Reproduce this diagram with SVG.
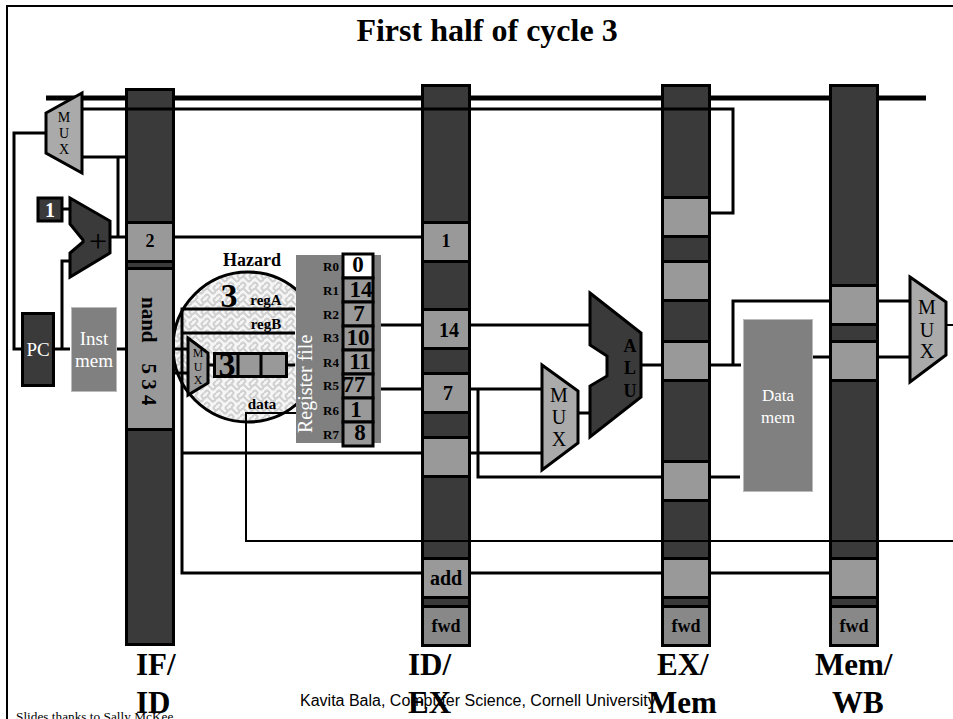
<svg xmlns="http://www.w3.org/2000/svg" width="953" height="719" viewBox="0 0 953 719">
<style>
text{font-family:"Liberation Serif","Times New Roman",serif;fill:#000}
.b{font-weight:bold}
.m{text-anchor:middle}
.w{fill:#fff}
.bar{fill:#3a3a3a;stroke:#000;stroke-width:3}
.cell{fill:#999;stroke:#000;stroke-width:3}
.fwd{fill:#888;stroke:#000;stroke-width:3}
.dark{fill:#3a3a3a;stroke:#000;stroke-width:3}
.mux{fill:#aaa;stroke:#000;stroke-width:3}
.mem{fill:#808080;stroke:#bbb;stroke-width:1}
.wire{fill:none;stroke:#000;stroke-width:3}
.thin{fill:none;stroke:#000;stroke-width:2}
.thick{fill:none;stroke:#000;stroke-width:5}
</style>
<defs>
<pattern id="weave" width="12" height="12" patternUnits="userSpaceOnUse">
<rect width="12" height="12" fill="#f6f6f6"/>
<path d="M0 3L3 0M3 0L9 6M9 6L12 3M0 9L3 6M3 6L6 9M6 9L3 12M9 12L12 9M9 0L12 3" fill="none" stroke="#d0d0d0" stroke-width="2"/>
</pattern>
</defs>
<rect width="953" height="719" fill="#fff"/>
<g id="frame"><path class="thin" d="M953 6H7V719"/></g>
<text id="title" class="b m" x="487" y="41" font-size="32">First half of cycle 3</text>

<g id="pipeline-bars">
<rect class="bar" x="126.500" y="89.500" width="47" height="555"/>
<rect class="bar" x="422.500" y="85.500" width="47" height="560"/>
<rect class="bar" x="662.500" y="85.500" width="47" height="560"/>
<rect class="bar" x="830.500" y="85.500" width="47" height="560"/>
</g>

<g id="hazard-unit">
<circle cx="248" cy="347" r="75" fill="url(#weave)" stroke="#000" stroke-width="3"/>
<text class="b m" x="252" y="266" font-size="18">Hazard</text>
<text class="b m" x="229" y="307" font-size="34">3</text>
<text class="b m" x="266" y="305" font-size="15">regA</text>
<text class="b m" x="266" y="329" font-size="15">regB</text>
<text class="b m" x="262" y="409" font-size="15">data</text>
</g>

<g id="connectors">
<path class="thick" d="M46 98H126M174 98H422M470 98H661M710 98H830M878 98H926"/>
<path class="wire" d="M82 109H733V213H710"/>
<path class="wire" d="M46 133H14V349H22"/>
<path class="wire" d="M82 157H126M118 157V237"/>
<path class="wire" d="M63 209H70M111 237H126M174 237H422"/>
<path class="wire" d="M54 349H70M62 349V261H70M117 349H126"/>
<path class="wire" d="M295 309H182V573H422M182 333H295M175 349H187M175 373H187M182 453H422"/>
<path class="wire" d="M209 365H214M287 365H295"/>
<path class="thin" d="M296 413H246V541H953"/>
<path class="wire" d="M381 325H422M470 325H590M381 389H422M470 389H542M470 453H542M478 389V477H662"/>
<path class="wire" d="M578 413H590M641 365H662"/>
<path class="wire" d="M710 365H741M733 365V301H830M813 357H830M878 301H909M878 357H909M710 477H740"/>
<path class="thin" d="M946 325H953"/>
<path class="wire" d="M470 573H662M710 573H830"/>
</g>

<g id="if-id-cells">
<rect class="cell" x="126.500" y="222.500" width="47" height="39"/><text class="b m" x="150" y="247" font-size="18">2</text>
<rect class="cell" x="126.500" y="268.500" width="47" height="161"/>
<text class="b" transform="translate(142 297) rotate(90)" font-size="21" xml:space="preserve">nand    5 3 4</text>
</g>
<g id="id-ex-cells">
<rect class="cell" x="422.500" y="222.500" width="47" height="39"/><text class="b m" x="446" y="247" font-size="18">1</text>
<rect class="cell" x="422.500" y="309.500" width="47" height="39"/><text class="b m" x="449" y="337" font-size="20">14</text>
<rect class="cell" x="422.500" y="373.500" width="47" height="39"/><text class="b m" x="448" y="400" font-size="20">7</text>
<rect class="cell" x="422.500" y="437.500" width="47" height="39"/>
<rect class="cell" x="422.500" y="558.500" width="47" height="39"/><text class="b m" x="446" y="585" font-size="20">add</text>
<rect class="fwd" x="422.500" y="606.500" width="47" height="39"/><text class="b m" x="446" y="632" font-size="18">fwd</text>
</g>
<g id="ex-mem-cells">
<rect class="cell" x="662.500" y="197.500" width="47" height="39"/>
<rect class="cell" x="662.500" y="261.500" width="47" height="39"/>
<rect class="cell" x="662.500" y="341.500" width="47" height="39"/>
<rect class="cell" x="662.500" y="461.500" width="47" height="39"/>
<rect class="cell" x="662.500" y="558.500" width="47" height="39"/>
<rect class="fwd" x="662.500" y="606.500" width="47" height="39"/><text class="b m" x="686" y="632" font-size="18">fwd</text>
</g>
<g id="mem-wb-cells">
<rect class="cell" x="830.500" y="285.500" width="47" height="39"/>
<rect class="cell" x="830.500" y="341.500" width="47" height="39"/>
<rect class="cell" x="830.500" y="558.500" width="47" height="39"/>
<rect class="fwd" x="830.500" y="606.500" width="47" height="39"/><text class="b m" x="854" y="632" font-size="18">fwd</text>
</g>

<g id="pc-mux">
<polygon class="mux" points="46,113 82,93 82,173 46,153"/>
<text class="m" x="64" y="122" font-size="14">M</text><text class="m" x="64" y="138" font-size="14">U</text><text class="m" x="64" y="154" font-size="14">X</text>
</g>
<g id="const-1"><rect class="dark" x="38" y="198" width="24" height="23"/><text class="b m w" x="50" y="217" font-size="20">1</text></g>
<g id="adder">
<polygon class="dark" points="70,198 110,221 110,253 70,277 70,253 83,242 83,240 70,224"/>
<text class="m" x="98" y="252" font-size="32">+</text>
</g>
<g id="pc"><rect class="dark" x="22.500" y="313.500" width="31" height="72"/><text class="m w" x="38" y="356" font-size="19">PC</text></g>
<g id="inst-mem">
<rect class="mem" x="71.500" y="307.500" width="45" height="84"/>
<text class="m w" x="94" y="345" font-size="19">Inst</text><text class="m w" x="94" y="367" font-size="19">mem</text>
</g>

<g id="hazard-mux">
<polygon class="cell" points="188,338 208,353 208,383 188,395"/>
<text class="m" x="198" y="357" font-size="12">M</text><text class="m" x="198" y="371" font-size="12">U</text><text class="m" x="198" y="384" font-size="12">X</text>
</g>
<g id="hazard-shift">
<rect class="cell" x="214.500" y="353.500" width="72" height="23"/>
<path class="wire" d="M238 353V377M261 353V377"/>
<text class="b m" x="227" y="376" font-size="34">3</text>
</g>

<g id="register-file">
<rect fill="#808080" x="296" y="255" width="85" height="188"/>
<text class="w" transform="translate(312 433) rotate(-90)" font-size="20">Register file</text>
<rect x="343" y="254" width="30" height="24" fill="#fff" stroke="#000" stroke-width="3"/>
<rect class="cell" x="343" y="278" width="30" height="24"/>
<rect class="cell" x="343" y="302" width="30" height="24"/>
<rect class="cell" x="343" y="326" width="30" height="24"/>
<rect class="cell" x="343" y="350" width="30" height="24"/>
<rect class="cell" x="343" y="374" width="30" height="24"/>
<rect class="cell" x="343" y="398" width="30" height="24"/>
<rect class="cell" x="343" y="422" width="30" height="24"/>
<g class="b m" font-size="13">
<text x="331" y="271">R0</text><text x="331" y="295">R1</text><text x="331" y="319">R2</text><text x="331" y="342">R3</text><text x="331" y="367">R4</text><text x="331" y="390">R5</text><text x="331" y="415">R6</text><text x="331" y="439">R7</text>
</g>
<g class="b m" font-size="23">
<text x="358" y="272">0</text><text x="361" y="297">14</text><text x="359" y="321">7</text><text x="358" y="345">10</text><text x="360" y="369">11</text><text x="354" y="392">77</text><text x="356" y="417">1</text><text x="360" y="440">8</text>
</g>
</g>

<g id="ex-mux">
<polygon class="mux" points="542,365 578,391 578,443 542,470"/>
<text class="m" x="559" y="402" font-size="20">M</text><text class="m" x="559" y="424" font-size="20">U</text><text class="m" x="559" y="446" font-size="20">X</text>
</g>
<g id="alu">
<polygon class="dark" points="590,293 641,333 641,397 590,437 590,386 607,376 607,356 590,345"/>
<text class="b m" x="630" y="352" font-size="18">A</text><text class="b m" x="630" y="374" font-size="18">L</text><text class="b m" x="630" y="397" font-size="18">U</text>
</g>
<g id="data-mem">
<rect class="mem" x="743.500" y="319.500" width="69" height="172"/>
<text class="m w" x="778" y="401" font-size="17">Data</text><text class="m w" x="778" y="423" font-size="17">mem</text>
</g>
<g id="wb-mux">
<polygon class="mux" points="910,277 946,302 946,355 910,382"/>
<text class="m" x="927" y="314" font-size="20">M</text><text class="m" x="927" y="337" font-size="20">U</text><text class="m" x="927" y="358" font-size="20">X</text>
</g>

<g id="footer">
<text x="16" y="721" font-size="13.300">Slides thanks to Sally McKee</text>
<text x="300" y="706" font-size="16" style="font-family:'Liberation Sans',Arial,sans-serif">Kavita Bala, Computer Science, Cornell University</text>
</g>
<g id="stage-labels" class="b" font-size="31">
<text x="136" y="675">IF/</text><text x="136" y="713">ID</text>
<text x="408" y="675">ID/</text><text x="408" y="713">EX</text>
<text x="657" y="675">EX/</text><text x="648" y="713">Mem</text>
<text x="815" y="675">Mem/</text><text x="832" y="713">WB</text>
</g>
</svg>
